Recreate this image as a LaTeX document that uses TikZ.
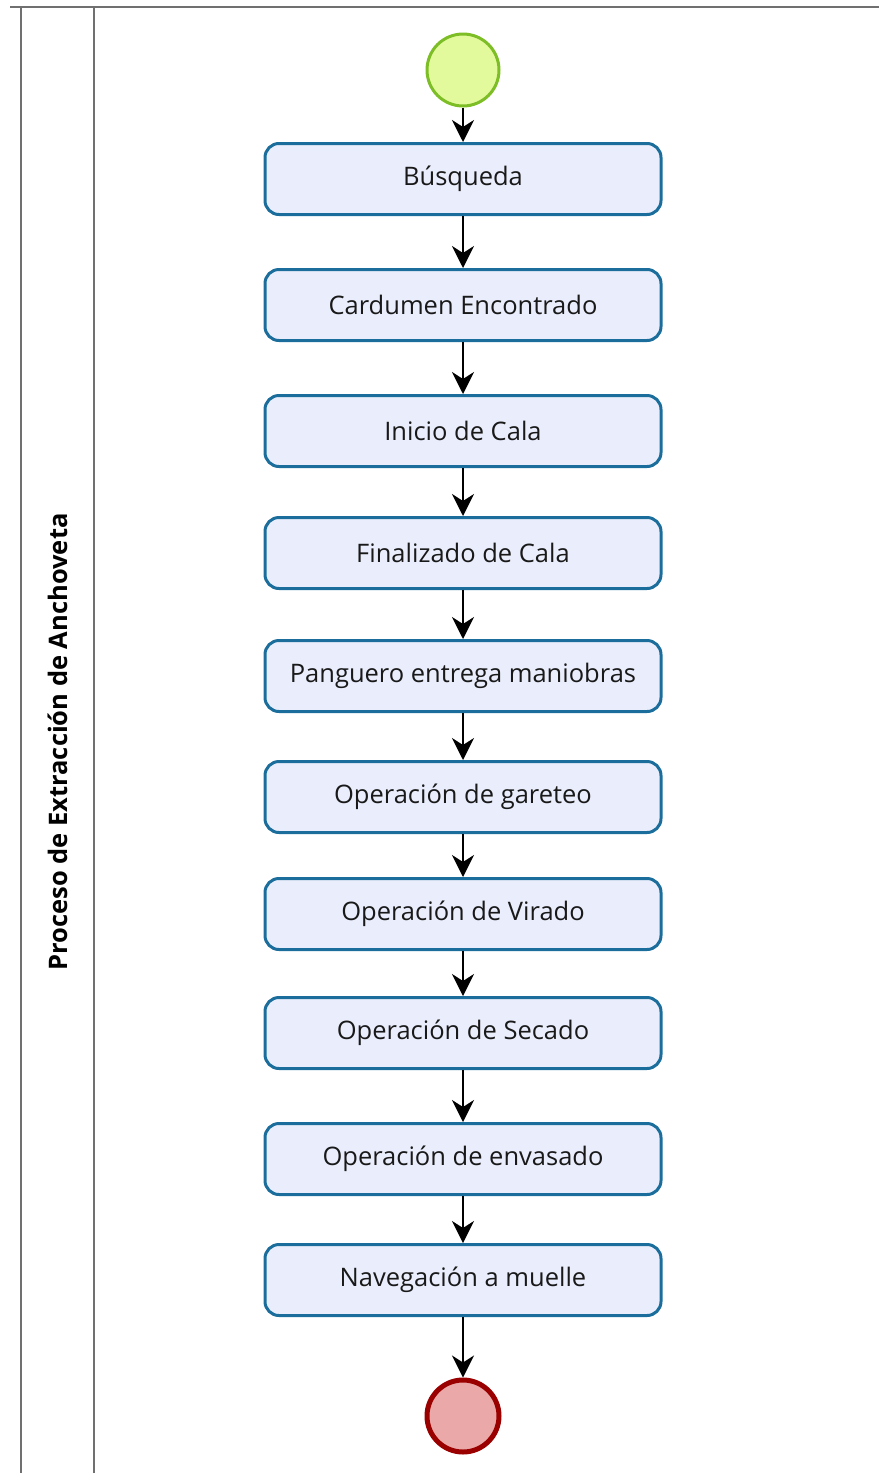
\documentclass[tikz,border=0pt]{standalone}
\usepackage{fontspec}
\setmainfont{Open Sans}
\usetikzlibrary{arrows.meta}
\definecolor{taskfill}{HTML}{EAEEFC}
\definecolor{taskline}{HTML}{1B6D9C}
\definecolor{startfill}{HTML}{E2FA9C}
\definecolor{startline}{HTML}{7DBE26}
\definecolor{endfill}{HTML}{EBA8A8}
\definecolor{endline}{HTML}{9A0000}
\definecolor{laneline}{HTML}{707070}

\begin{document}
\begin{tikzpicture}[x=1pt, y=-1pt,
	task/.style={draw=taskline, fill=taskfill, line width=3pt, rounded corners=14pt,
		minimum width=396pt, minimum height=71pt, inner sep=0pt,
		font=\fontsize{25.5}{30}\selectfont, text=black!90},
	startev/.style={circle, draw=startline, fill=startfill, line width=3pt, minimum size=72pt, inner sep=0pt},
	endev/.style={circle, draw=endline, fill=endfill, line width=5pt, minimum size=72pt, inner sep=0pt},
	flow/.style={line width=2pt, arrows={-Stealth[length=22pt, width=22pt, inset=7pt]}}]
	\useasboundingbox (0,0) rectangle (879,1473);
	% lane
	\draw[laneline, line width=2pt] (10,7) -- (879,7);
	\draw[laneline, line width=2pt] (21,7) -- (21,1473);
	\draw[laneline, line width=2pt] (94,7) -- (94,1473);
	\node[rotate=90, font=\bfseries\fontsize{25.5}{30}\selectfont] (lane) at (58,742) {Proceso de Extracción de Anchoveta};
	% events and tasks
	\node[startev] (start) at (463,70) {};
	\node[task] (busq) at (463,179) {Búsqueda};
	\node[task] (card) at (463,305) {Cardumen Encontrado};
	\node[task] (inicio) at (463,431) {Inicio de Cala};
	\node[task] (final) at (463,553) {Finalizado de Cala};
	\node[task] (pang) at (463,676) {Panguero entrega maniobras};
	\node[task] (gar) at (463,797) {Operación de gareteo};
	\node[task] (vir) at (463,914) {Operación de Virado};
	\node[task] (sec) at (463,1033) {Operación de Secado};
	\node[task] (env) at (463,1159) {Operación de envasado};
	\node[task] (nav) at (463,1280) {Navegación a muelle};
	\node[endev] (fin) at (463,1416) {};
	% flows
	\foreach \a/\b in {start/busq, busq/card, card/inicio, inicio/final, final/pang,
		pang/gar, gar/vir, vir/sec, sec/env, env/nav, nav/fin}
		\draw[flow] (\a) -- (\b);
\end{tikzpicture}
\end{document}
